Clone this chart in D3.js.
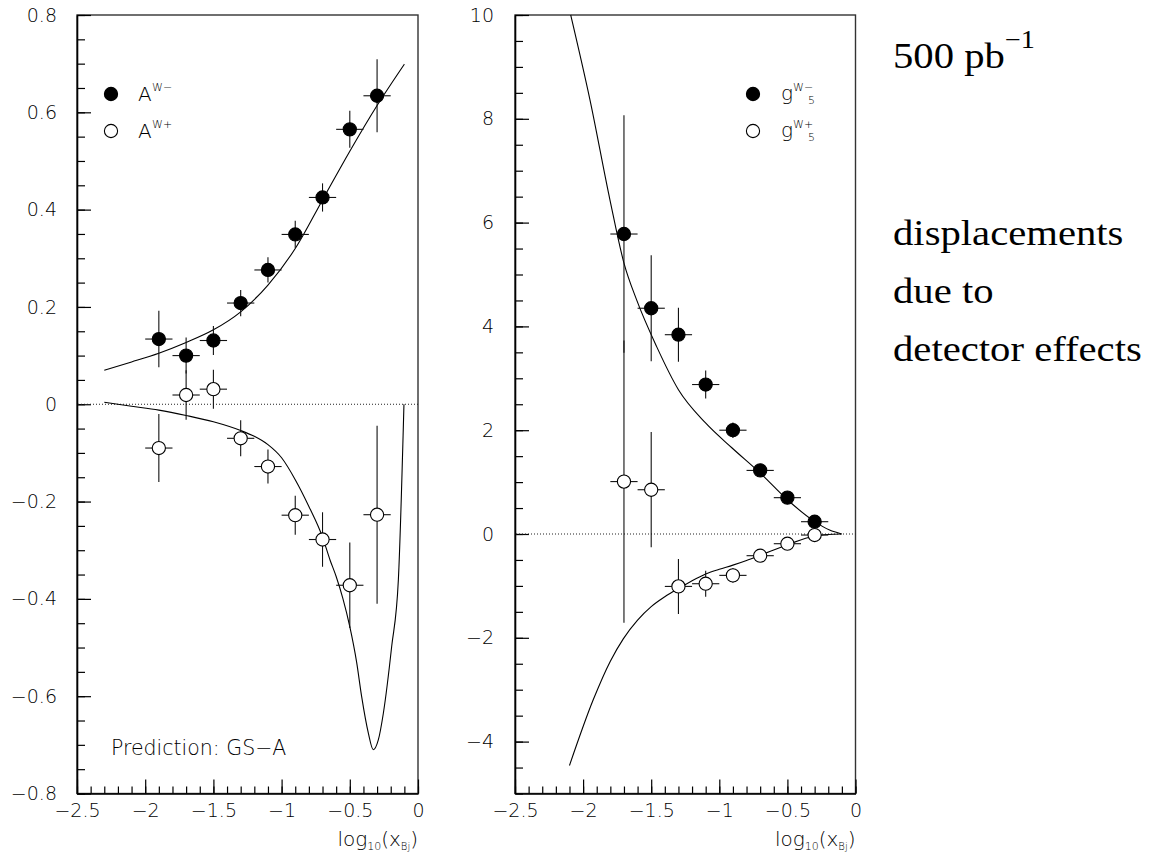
<!DOCTYPE html>
<html>
<head>
<meta charset="utf-8">
<script src="https://cdn.jsdelivr.net/npm/d3@7"></script>
<style>
  html, body { margin: 0; padding: 0; background: #fff; }
  svg { display: block; }
  .tick text { font-family: "DejaVu Sans", sans-serif; font-size: 19px; font-weight: 200; fill: #000; }
  .lbl { font-family: "DejaVu Sans", sans-serif; font-weight: 200; fill: #000; }
  .serif { font-family: "Liberation Serif", "DejaVu Serif", serif; fill: #000; }
</style>
</head>
<body>
<div id="chart"></div>
<script>
// ---------------- data ----------------
const xTickValues = [-2.5, -2, -1.5, -1, -0.5, 0];
const xTickLabels = ["\u22122.5", "\u22122", "\u22121.5", "\u22121", "\u22120.5", "0"];

const leftYTickValues = [0.8, 0.6, 0.4, 0.2, 0, -0.2, -0.4, -0.6, -0.8];
const leftYTickLabels = ["0.8", "0.6", "0.4", "0.2", "0", "\u22120.2", "\u22120.4", "\u22120.6", "\u22120.8"];
const rightYTickValues = [10, 8, 6, 4, 2, 0, -2, -4];
const rightYTickLabels = ["10", "8", "6", "4", "2", "0", "\u22122", "\u22124"];

// left panel: asymmetries A^{W-}, A^{W+}
const aBinX = [-1.9, -1.7, -1.5, -1.3, -1.1, -0.9, -0.7, -0.5, -0.3];
const aWminus = [0.134, 0.100, 0.131, 0.208, 0.276, 0.349, 0.425, 0.565, 0.634];
const aWminusErr = [0.058, 0.037, 0.030, 0.027, 0.026, 0.028, 0.029, 0.038, 0.075];
const aWplus = [-0.090, 0.019, 0.031, -0.070, -0.128, -0.228, -0.278, -0.372, -0.227];
const aWplusErr = [0.070, 0.051, 0.040, 0.037, 0.035, 0.040, 0.056, 0.088, 0.183];
const binHalfWidth = 0.1;

// GS-A predictions (left)
const aCurveMinusX = [-2.3, -2.1, -1.9, -1.7, -1.5, -1.3, -1.1, -0.9, -0.7, -0.5, -0.3, -0.1];
const aCurveMinusY = [0.070, 0.087, 0.105, 0.127, 0.153, 0.190, 0.245, 0.320, 0.420, 0.520, 0.614, 0.699];
const aCurvePlusX = [-2.3, -2.1, -1.9, -1.7, -1.5, -1.3, -1.2, -1.1, -1.0, -0.9, -0.8, -0.7, -0.645, -0.6, -0.55, -0.5, -0.45, -0.413, -0.364, -0.328, -0.291, -0.254, -0.193, -0.144, -0.103];
const aCurvePlusY = [0.004, -0.004, -0.012, -0.023, -0.036, -0.054, -0.066, -0.083, -0.110, -0.155, -0.210, -0.273, -0.320, -0.354, -0.400, -0.457, -0.530, -0.601, -0.676, -0.710, -0.690, -0.635, -0.498, -0.361, 0.0];

// right panel: g5^{W-}, g5^{W+}
const gBinX = [-1.7, -1.5, -1.3, -1.1, -0.9, -0.7, -0.5, -0.3];
const g5Wminus = [5.78, 4.35, 3.84, 2.88, 2.00, 1.225, 0.70, 0.237];
const g5WminusErr = [2.29, 1.02, 0.52, 0.27, 0.15, 0.12, 0.10, 0.08];
const g5Wplus = [1.01, 0.853, -1.01, -0.958, -0.797, -0.418, -0.187, -0.02];
const g5WplusErr = [2.72, 1.11, 0.53, 0.25, 0.14, 0.11, 0.09, 0.07];

const gCurveMinusX = [-2.091, -1.95, -1.803, -1.70, -1.607, -1.46, -1.30, -1.101, -0.906, -0.70, -0.50, -0.302, -0.19, -0.102];
const gCurveMinusY = [10, 8.37, 6.44, 5.22, 4.51, 3.61, 2.78, 2.14, 1.657, 1.175, 0.66, 0.243, 0.075, 0];
const gCurvePlusX = [-2.1, -1.925, -1.8, -1.705, -1.6, -1.5, -1.4, -1.3, -1.2, -1.1, -1.0, -0.9, -0.8, -0.7, -0.5, -0.3, -0.2, -0.102];
const gCurvePlusY = [-4.46, -3.19, -2.45, -2.02, -1.66, -1.40, -1.21, -1.05, -0.90, -0.77, -0.68, -0.60, -0.51, -0.41, -0.206, -0.04, -0.01, 0];

// ---------------- drawing ----------------
const W = 1153, H = 857;
const svg = d3.select("#chart").append("svg").attr("width", W).attr("height", H);
svg.append("rect").attr("width", W).attr("height", H).attr("fill", "#fff");

function zip(xs, ys) { return xs.map((x, i) => [x, ys[i]]); }

function drawPanel(cfg) {
  const x = d3.scaleLinear().domain([-2.5, 0]).range([cfg.x0, cfg.x1]);
  const y = d3.scaleLinear().domain(cfg.yDomain).range([cfg.yBottom, cfg.yTop]);
  const g = svg.append("g");

  // frame
  g.append("rect")
    .attr("x", cfg.x0).attr("y", cfg.yTop)
    .attr("width", cfg.x1 - cfg.x0).attr("height", cfg.yBottom - cfg.yTop)
    .attr("fill", "none").attr("stroke", "#333").attr("stroke-width", 1.4);

  // y axis: minor ticks
  const yMinor = d3.range(Math.round((cfg.yDomain[1] - cfg.yDomain[0]) / cfg.yMinorStep) + 1)
    .map(i => cfg.yDomain[0] + i * cfg.yMinorStep);
  g.append("g").attr("transform", `translate(${cfg.x0},0)`)
    .call(d3.axisLeft(y).tickValues(yMinor).tickSize(-8).tickSizeOuter(0).tickFormat(""))
    .call(s => s.select(".domain").remove())
    .call(s => s.selectAll("line").attr("stroke", "#000").attr("stroke-width", 1.2));
  // y axis: major ticks
  g.append("g").attr("transform", `translate(${cfg.x0},0)`)
    .call(d3.axisLeft(y).tickValues(cfg.yTicks).tickSize(-14).tickSizeOuter(0).tickPadding(cfg.yPad)
      .tickFormat((d, i) => cfg.yLabels[i]))
    .call(s => s.select(".domain").attr("stroke", "#000").attr("stroke-width", 1.6))
    .call(s => s.selectAll("line").attr("stroke", "#000").attr("stroke-width", 1.2))
    .call(s => s.selectAll("text").attr("font-family", null).attr("font-size", null));

  // x axis
  const xMinor = d3.range(26).map(i => -2.5 + i * 0.1);
  g.append("g").attr("transform", `translate(0,${cfg.yBottom})`)
    .call(d3.axisBottom(x).tickValues(xMinor).tickSize(-7).tickSizeOuter(0).tickFormat(""))
    .call(s => s.select(".domain").remove())
    .call(s => s.selectAll("line").attr("stroke", "#000").attr("stroke-width", 1.2));
  g.append("g").attr("transform", `translate(0,${cfg.yBottom})`)
    .call(d3.axisBottom(x).tickValues(xTickValues).tickSize(-14).tickSizeOuter(0).tickPadding(10)
      .tickFormat((d, i) => xTickLabels[i]))
    .call(s => s.select(".domain").attr("stroke", "#000").attr("stroke-width", 1.6))
    .call(s => s.selectAll("line").attr("stroke", "#000").attr("stroke-width", 1.2))
    .call(s => s.selectAll("text").attr("font-family", null).attr("font-size", null));

  // x axis title log10(x_Bj)
  const t = g.append("text").attr("class", "lbl").attr("x", cfg.x1).attr("y", 846)
    .attr("text-anchor", "end").attr("font-size", 20);
  t.append("tspan").text("log");
  t.append("tspan").attr("font-size", 11).attr("dy", 4).text("10");
  t.append("tspan").attr("dy", -4).text("(x");
  t.append("tspan").attr("font-size", 10).attr("dy", 4).text("Bj");
  t.append("tspan").attr("dy", -4).text(")");

  // zero dotted line
  g.append("line")
    .attr("x1", cfg.x0 + 1).attr("x2", cfg.x1)
    .attr("y1", y(0)).attr("y2", y(0))
    .attr("stroke", "#222").attr("stroke-width", 1).attr("stroke-dasharray", "1,2");

  // curves
  const line = d3.line().x(d => x(d[0])).y(d => y(d[1])).curve(d3.curveMonotoneX);
  cfg.curves.forEach(c => {
    g.append("path").attr("d", line(c)).attr("fill", "none")
      .attr("stroke", "#000").attr("stroke-width", 1.1);
  });

  // error bars (all first)
  cfg.series.forEach(s => {
    s.xs.forEach((xv, i) => {
      const v = s.vals[i], e = s.errs[i];
      g.append("line").attr("x1", x(xv)).attr("x2", x(xv))
        .attr("y1", y(v + e)).attr("y2", y(v - e))
        .attr("stroke", "#111").attr("stroke-width", 1.1);
      g.append("line").attr("x1", x(xv - binHalfWidth)).attr("x2", x(xv + binHalfWidth))
        .attr("y1", y(v)).attr("y2", y(v))
        .attr("stroke", "#111").attr("stroke-width", 1.1);
    });
  });
  // markers
  cfg.series.forEach(s => {
    s.xs.forEach((xv, i) => {
      g.append("circle").attr("cx", x(xv)).attr("cy", y(s.vals[i])).attr("r", 6.6)
        .attr("fill", s.filled ? "#000" : "#fff").attr("stroke", "#000").attr("stroke-width", 1.1);
    });
  });
  return { x, y, g };
}

// left panel
const left = drawPanel({
  x0: 77, x1: 418, yTop: 15, yBottom: 793.5,
  yDomain: [-0.8, 0.8], yMinorStep: 0.05,
  yTicks: leftYTickValues, yLabels: leftYTickLabels, yPad: 20,
  curves: [zip(aCurveMinusX, aCurveMinusY), zip(aCurvePlusX, aCurvePlusY)],
  series: [
    { xs: aBinX, vals: aWminus, errs: aWminusErr, filled: true },
    { xs: aBinX, vals: aWplus, errs: aWplusErr, filled: false }
  ]
});

// right panel
const right = drawPanel({
  x0: 515, x1: 855.5, yTop: 15, yBottom: 793.5,
  yDomain: [-5, 10], yMinorStep: 0.5,
  yTicks: rightYTickValues, yLabels: rightYTickLabels, yPad: 21,
  curves: [zip(gCurveMinusX, gCurveMinusY), zip(gCurvePlusX, gCurvePlusY)],
  series: [
    { xs: gBinX, vals: g5Wminus, errs: g5WminusErr, filled: true },
    { xs: gBinX, vals: g5Wplus, errs: g5WplusErr, filled: false }
  ]
});

// left legend
function legendA(cy, filled, sup) {
  svg.append("circle").attr("cx", 111).attr("cy", cy).attr("r", 6.6)
    .attr("fill", filled ? "#000" : "#fff").attr("stroke", "#000").attr("stroke-width", 1.1);
  svg.append("text").attr("class", "lbl").attr("x", 138).attr("y", cy + 7).attr("font-size", 20).text("A");
  svg.append("text").attr("class", "lbl").attr("x", 152).attr("y", cy - 3).attr("font-size", 11).text(sup);
}
legendA(94, true, "W\u2212");
legendA(131, false, "W+");

// right legend
function legendG(cy, filled, sup) {
  svg.append("circle").attr("cx", 753).attr("cy", cy).attr("r", 6.6)
    .attr("fill", filled ? "#000" : "#fff").attr("stroke", "#000").attr("stroke-width", 1.1);
  svg.append("text").attr("class", "lbl").attr("x", 781).attr("y", cy + 6).attr("font-size", 20).text("g");
  svg.append("text").attr("class", "lbl").attr("x", 793).attr("y", cy - 3).attr("font-size", 11).text(sup);
  svg.append("text").attr("class", "lbl").attr("x", 808).attr("y", cy + 10).attr("font-size", 11).text("5");
}
legendG(94, true, "W\u2212");
legendG(131, false, "W+");

// prediction label
svg.append("text").attr("class", "lbl").attr("x", 111).attr("y", 755).attr("font-size", 20.5)
  .text("Prediction: GS\u2212A");

// right-side annotation (serif)
const sx = 1.13, ax = 893;
const ann = svg.append("g").attr("transform", `translate(${ax},0) scale(${sx},1)`);
const t1 = ann.append("text").attr("class", "serif").attr("x", 0).attr("y", 68).attr("font-size", 36);
t1.append("tspan").text("500 pb");
t1.append("tspan").attr("font-size", 25).attr("dy", -20).text("\u22121");
ann.append("text").attr("class", "serif").attr("x", 0).attr("y", 245).attr("font-size", 36).text("displacements");
ann.append("text").attr("class", "serif").attr("x", 0).attr("y", 303).attr("font-size", 36).text("due to");
ann.append("text").attr("class", "serif").attr("x", 0).attr("y", 361).attr("font-size", 36).text("detector effects");
</script>
</body>
</html>
